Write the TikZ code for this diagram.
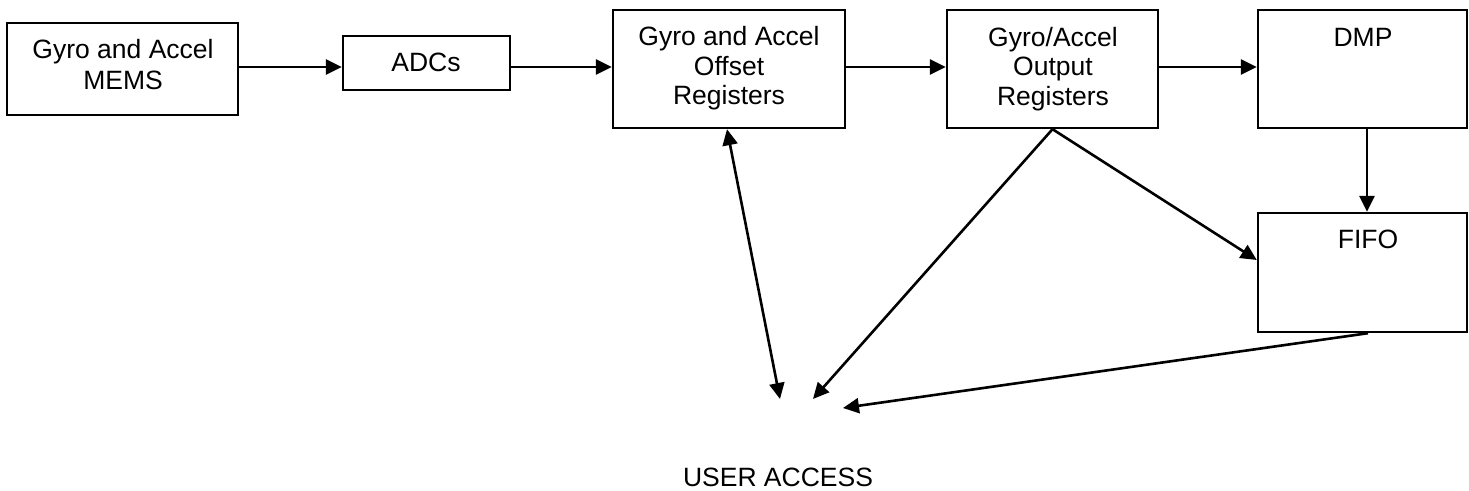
\documentclass[tikz,border=0pt]{standalone}
\usepackage{fontspec}
\setmainfont{Liberation Sans}
\usetikzlibrary{arrows.meta}
\begin{document}
\begin{tikzpicture}[x=0.5pt,y=-0.5pt,
  blk/.style={draw,line width=1.2pt,inner sep=0pt},
  lbl/.style={anchor=base,inner sep=0pt,font=\fontsize{13.25}{15}\selectfont},
  conn/.style={line width=1.3pt,-{Triangle[length=8pt,width=7.5pt]}},
  conn2/.style={line width=1.3pt,{Triangle[length=8pt,width=7.5pt]}-{Triangle[length=8pt,width=7.5pt]}}]
\useasboundingbox (0,0) rectangle (1469,491);
% boxes
\node[blk,minimum width=115.5pt,minimum height=46pt] (mems) at (122.5,69) {};
\node[blk,minimum width=83.5pt,minimum height=27pt] (adc) at (426.5,63) {};
\node[blk,minimum width=116pt,minimum height=59pt] (off) at (729,69) {};
\node[blk,minimum width=105.5pt,minimum height=59pt] (out) at (1052.5,69) {};
\node[blk,minimum width=104.5pt,minimum height=59pt] (dmp) at (1362.5,69) {};
\node[blk,minimum width=104.5pt,minimum height=59.5pt] (fifo) at (1362.5,272.5) {};
% texts
\node[lbl] (t1a) at (123,59) {Gyro and Accel};
\node[lbl] (t1b) at (123,90) {MEMS};
\node[lbl] (t2) at (426,72) {ADCs};
\node[lbl] (t3a) at (729,46) {Gyro and Accel};
\node[lbl] (t3b) at (729,76) {Offset};
\node[lbl] (t3c) at (729,105) {Registers};
\node[lbl] (t4a) at (1053,47) {Gyro/Accel};
\node[lbl] (t4b) at (1053,76) {Output};
\node[lbl] (t4c) at (1053,106) {Registers};
\node[lbl] (t5) at (1363,47) {DMP};
\node[lbl] (t6) at (1368,249) {FIFO};
\node[lbl] (ua) at (778,487) {USER ACCESS};
% free ends near USER ACCESS
\coordinate (ua1) at (780,399);
\coordinate (ua2) at (813,399);
\coordinate (ua3) at (843,408);
% connectors
\draw[conn] ([yshift=1pt]mems.east) -- ([yshift=1pt]mems.east -| adc.west);
\draw[conn] ([yshift=-2pt]adc.east) -- ([yshift=-2pt]adc.east -| off.west);
\draw[conn] ([yshift=1pt]off.east) -- ([yshift=1pt]off.east -| out.west);
\draw[conn] ([yshift=1pt]out.east) -- ([yshift=1pt]out.east -| dmp.west);
\draw[conn] ([xshift=2.25pt]dmp.south) -- ([xshift=2.25pt]dmp.south |- fifo.north);
\draw[conn2] ([xshift=-1pt]off.south) -- (ua1);
\draw[conn] (out.south) -- (ua2);
\draw[conn] (out.south) -- ([yshift=6.25pt]fifo.west);
\draw[conn] ([xshift=2.75pt]fifo.south) -- (ua3);
\end{tikzpicture}
\end{document}
